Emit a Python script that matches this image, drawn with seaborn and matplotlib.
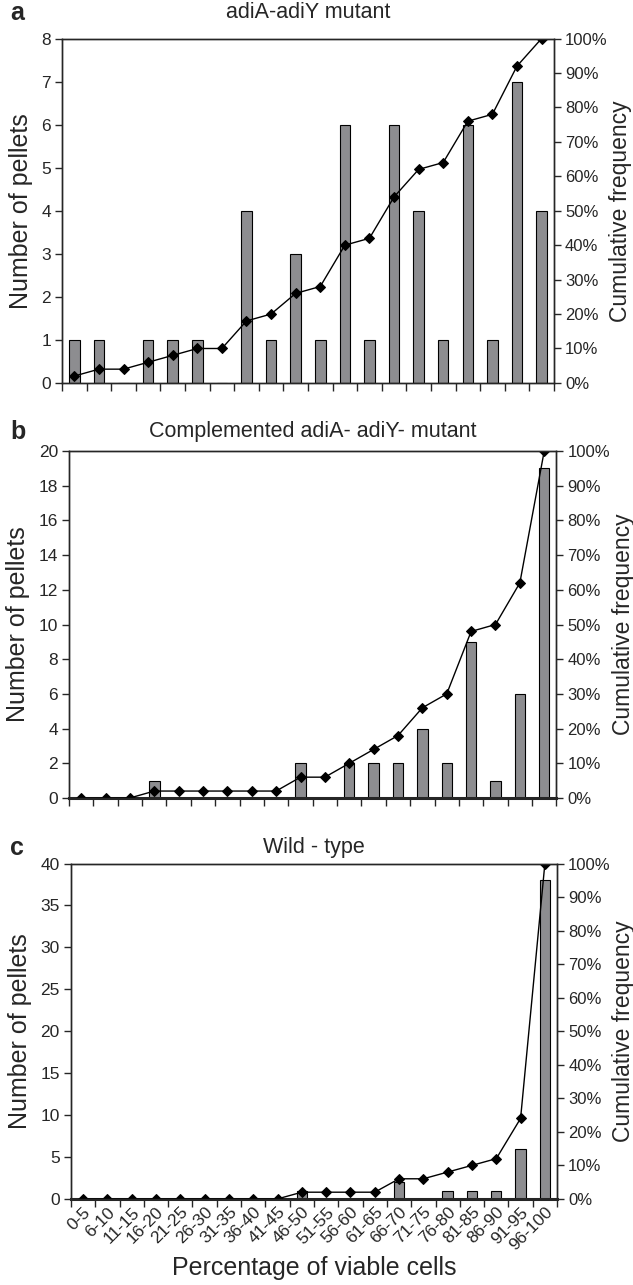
import matplotlib
matplotlib.use('Agg')
import matplotlib.pyplot as plt
import matplotlib.ticker as mticker
import numpy as np
import pandas as pd
import seaborn as sns

categories = ['0-5', '6-10', '11-15', '16-20', '21-25', '26-30', '31-35', '36-40', '41-45', '46-50',
              '51-55', '56-60', '61-65', '66-70', '71-75', '76-80', '81-85', '86-90', '91-95', '96-100']

# number of pellets per class
counts_a = [1, 1, 0, 1, 1, 1, 0, 4, 1, 3, 1, 6, 1, 6, 4, 1, 6, 1, 7, 4]
counts_b = [0, 0, 0, 1, 0, 0, 0, 0, 0, 2, 0, 2, 2, 2, 4, 2, 9, 1, 6, 19]
counts_c = [0, 0, 0, 0, 0, 0, 0, 0, 0, 1, 0, 0, 0, 2, 0, 1, 1, 1, 6, 38]

# cumulative frequency (%)
cum_a = [2, 4, 4, 6, 8, 10, 10, 18, 20, 26, 28, 40, 42, 54, 62, 64, 76, 78, 92, 100]
cum_b = [0, 0, 0, 2, 2, 2, 2, 2, 2, 6, 6, 10, 14, 18, 26, 30, 48, 50, 62, 100]
cum_c = [0, 0, 0, 0, 0, 0, 0, 0, 0, 2, 2, 2, 2, 6, 6, 8, 10, 12, 24, 100]

titles = ['adiA-adiY mutant', 'Complemented adiA- adiY- mutant', 'Wild - type']
letters = ['a', 'b', 'c']
ymax = [8, 20, 40]
ystep = [1, 2, 5]

sns.set_style('ticks')
plt.rcParams['font.family'] = ['Liberation Sans', 'DejaVu Sans']
plt.rcParams['axes.linewidth'] = 1.0

W, H = 633, 1285
fig = plt.figure(figsize=(W / 100, H / 100), dpi=100)
positions = [[0.098, 0.702, 0.777, 0.268],
             [0.109, 0.379, 0.770, 0.270],
             [0.112, 0.067, 0.768, 0.261]]
# vertical centre (px from top) of panel letter / title
head_y = [13, 432, 848]

panels = [(counts_a, cum_a), (counts_b, cum_b), (counts_c, cum_c)]
bar_color = '#8d8d90'

for i, (counts, cum) in enumerate(panels):
    ax = fig.add_axes(positions[i])
    df = pd.DataFrame({'cls': categories, 'n': counts, 'cum': cum})
    sns.barplot(data=df, x='cls', y='n', order=categories, color=bar_color,
                edgecolor='black', linewidth=0.8, width=0.43, saturation=1, ax=ax)
    ax.set_xlim(-0.5, len(categories) - 0.5)
    ax.set_ylim(0, ymax[i])
    ax.yaxis.set_major_locator(mticker.MultipleLocator(ystep[i]))
    ax.set_ylabel('Number of pellets', fontsize=18, labelpad=6)
    ax.set_xlabel('')
    # ticks on class boundaries
    ax.set_xticks(np.arange(-0.5, len(categories) + 0.5, 1), minor=False)
    ax.set_xticklabels([])
    ax.tick_params(axis='x', length=6, width=1, direction='out')
    ax.tick_params(axis='y', length=5, width=1, labelsize=12.5, direction='out', pad=3)
    if i > 0:
        ax.spines['bottom'].set_linewidth(2.2)

    ax2 = ax.twinx()
    sns.lineplot(x=np.arange(len(categories)), y=cum, color='black', linewidth=1,
                 marker='D', markersize=5, markeredgecolor='black', ax=ax2)
    ax2.set_ylim(0, 100)
    ax2.yaxis.set_major_locator(mticker.MultipleLocator(10))
    ax2.yaxis.set_major_formatter(mticker.FuncFormatter(lambda v, p: f'{v:.0f}%'))
    ax2.set_ylabel('Cumulative frequency', fontsize=16.5, labelpad=1)
    ax2.tick_params(axis='y', length=5, width=1, labelsize=12, direction='out', pad=3)
    ax2.set_xlim(-0.5, len(categories) - 0.5)

    if i == 2:
        ax.set_xticks(np.arange(len(categories)), minor=True)
        ax.set_xticklabels(categories, minor=True, rotation=45, ha='right',
                           rotation_mode='anchor', fontsize=12.5)
        ax.tick_params(axis='x', which='minor', length=0, pad=4)
        ax.set_xlabel('Percentage of viable cells', fontsize=18, labelpad=2)

    bb = ax.get_position()
    yf = 1 - head_y[i] / H
    fig.text(0.016, yf, letters[i], fontsize=18, fontweight='bold', va='center')
    fig.text((bb.x0 + bb.x1) / 2, yf, titles[i], fontsize=15.5, va='center', ha='center')

fig.savefig('out.png', dpi=100)
